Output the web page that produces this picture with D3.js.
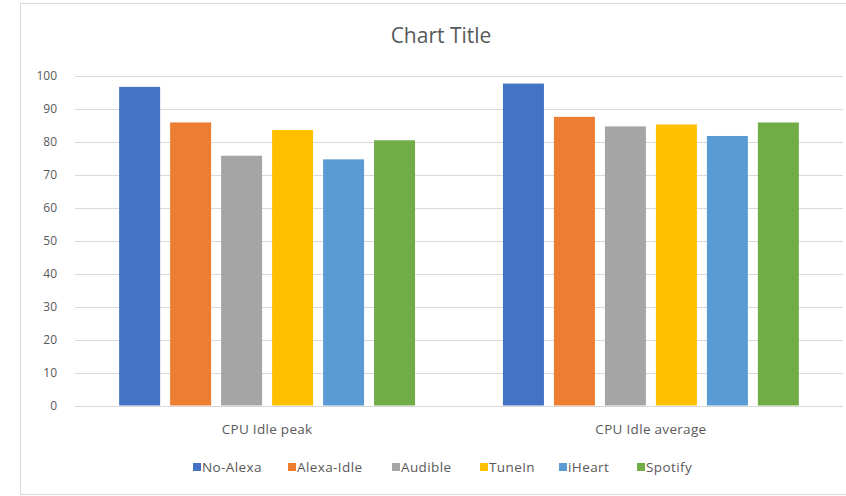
<!DOCTYPE html>
<html>
<head>
<meta charset="utf-8">
<script src="https://cdn.jsdelivr.net/npm/d3@7"></script>
<style>
  body { margin: 0; background: #fff; }
  text { font-family: "Open Sans", Lato, sans-serif; fill: #595959; }
</style>
</head>
<body>
<div id="chart-area"></div>
<script>
// data
var categories = ["CPU Idle peak", "CPU Idle average"];
var seriesNames = ["No-Alexa", "Alexa-Idle", "Audible", "TuneIn", "iHeart", "Spotify"];
var colors = ["#4472C4", "#ED7D31", "#A5A5A5", "#FFC000", "#5B9BD5", "#70AD47"];
var peakValues = [96.7, 85.9, 75.8, 83.6, 74.7, 80.5];
var averageValues = [97.7, 87.6, 84.7, 85.3, 81.8, 85.9];
var yTicks = [0, 10, 20, 30, 40, 50, 60, 70, 80, 90, 100];

var valuesByCategory = [peakValues, averageValues];

var margin = { left: 75, right: 3, top: 76, bottom: 90.5 };
var width = 846 - margin.left - margin.right,
    height = 496 - margin.top - margin.bottom;

var svg = d3.select("#chart-area").append("svg")
    .attr("width", 846)
    .attr("height", 496);

// chart frame
svg.append("rect")
    .attr("x", 20.5)
    .attr("y", 3.5)
    .attr("width", 840)
    .attr("height", 491)
    .attr("fill", "none")
    .attr("stroke", "#d9d9d9");

// title
svg.append("text")
    .attr("x", 441)
    .attr("y", 43)
    .attr("font-size", "21px")
    .attr("text-anchor", "middle")
    .text("Chart Title");

var g = svg.append("g")
    .attr("transform", "translate(" + margin.left + "," + margin.top + ")");

// scales
var x0 = d3.scaleBand()
    .domain(categories)
    .range([0, width])
    .paddingInner(0.229)
    .paddingOuter(0.115);

var x1 = d3.scaleBand()
    .domain(seriesNames)
    .range([0, x0.bandwidth()])
    .paddingInner(0.196)
    .paddingOuter(0);

var y = d3.scaleLinear()
    .domain([0, 100])
    .range([height, 0]);

// gridlines
g.selectAll(".grid")
    .data(yTicks)
    .enter().append("line")
        .attr("class", "grid")
        .attr("x1", 0)
        .attr("x2", width)
        .attr("y1", function(d){ return Math.round(y(d)) + 0.5; })
        .attr("y2", function(d){ return Math.round(y(d)) + 0.5; })
        .attr("stroke", "#d9d9d9")
        .attr("stroke-width", 1);

// y axis labels
var yAxisCall = d3.axisLeft(y)
    .tickValues(yTicks)
    .tickSize(0)
    .tickPadding(18);
var yAxis = g.append("g")
    .attr("class", "y axis")
    .call(yAxisCall);
yAxis.select(".domain").remove();
yAxis.selectAll("text")
    .attr("font-size", "12px")
    .attr("font-family", "'Open Sans', Lato, sans-serif")
    .attr("fill", "#595959");

// bars
var groups = g.selectAll(".group")
    .data(categories)
    .enter().append("g")
        .attr("class", "group")
        .attr("transform", function(d){ return "translate(" + x0(d) + ",0)"; });

groups.selectAll("rect")
    .data(function(d, i){
        return seriesNames.map(function(s, j){
            return { name: s, value: valuesByCategory[i][j], color: colors[j] };
        });
    })
    .enter().append("rect")
        .attr("x", function(d){ return x1(d.name); })
        .attr("y", function(d){ return y(d.value); })
        .attr("width", x1.bandwidth())
        .attr("height", function(d){ return height - y(d.value); })
        .attr("fill", function(d){ return d.color; });

// x axis labels
var xAxisCall = d3.axisBottom(x0)
    .tickSize(0)
    .tickPadding(19);
var xAxis = g.append("g")
    .attr("class", "x axis")
    .attr("transform", "translate(0," + height + ")")
    .call(xAxisCall);
xAxis.select(".domain").remove();
xAxis.selectAll("text")
    .attr("font-size", "13.5px")
    .attr("letter-spacing", "0.3px")
    .attr("font-family", "'Open Sans', Lato, sans-serif")
    .attr("fill", "#595959");

// legend
var legendX = [193, 288, 392, 480, 559, 637];
var legend = svg.selectAll(".legend")
    .data(seriesNames)
    .enter().append("g")
        .attr("class", "legend")
        .attr("transform", function(d, i){ return "translate(" + legendX[i] + ",467)"; });

legend.append("rect")
    .attr("x", 0)
    .attr("y", -4)
    .attr("width", 8)
    .attr("height", 8)
    .attr("fill", function(d, i){ return colors[i]; });

legend.append("text")
    .attr("x", 9)
    .attr("y", 0)
    .attr("dy", "0.35em")
    .attr("font-size", "13.5px")
    .attr("letter-spacing", "0.4px")
    .text(function(d){ return d; });
</script>
</body>
</html>
